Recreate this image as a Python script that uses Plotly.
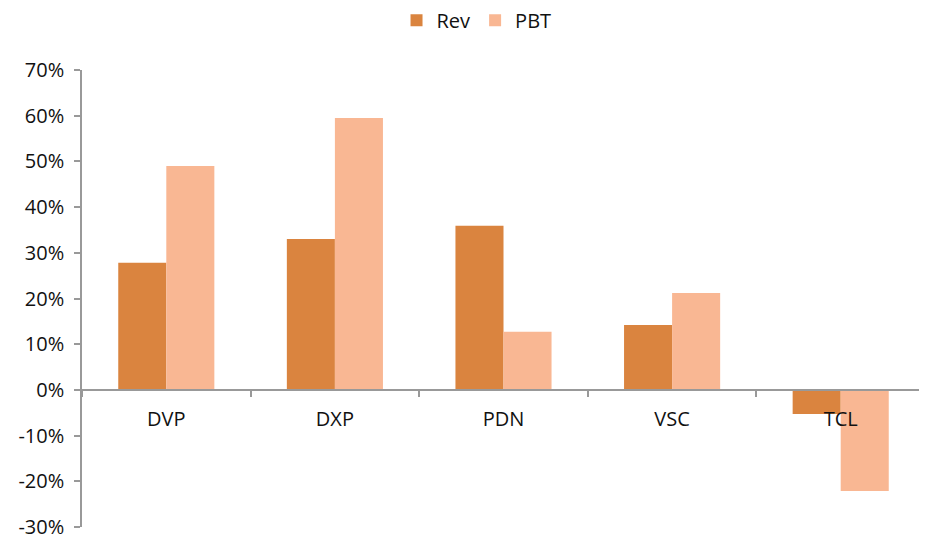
import plotly.graph_objects as go

categories = ["DVP", "DXP", "PDN", "VSC", "TCL"]
rev = [27.8, 33.0, 35.9, 14.2, -5.3]
pbt = [49.0, 59.5, 12.7, 21.2, -22.1]
ytick_vals = [-30, -20, -10, 0, 10, 20, 30, 40, 50, 60, 70]
ytick_text = [f"{v}%" for v in ytick_vals]

font_family = "Open Sans, Noto Sans, sans-serif"

fig = go.Figure()
fig.add_trace(go.Bar(name="Rev", x=categories, y=rev, marker_color="#DA843F", marker_line_width=0))
fig.add_trace(go.Bar(name="PBT", x=categories, y=pbt, marker_color="#F9B793", marker_line_width=0))

fig.update_layout(
    width=927, height=538,
    margin=dict(l=74, r=10, t=62, b=19, autoexpand=False),
    paper_bgcolor="white", plot_bgcolor="white",
    barmode="group", bargap=0.43, bargroupgap=0,
    font=dict(family=font_family, size=20, color="#111"),
    legend=dict(orientation="h", x=0.468, xanchor="center", y=1.109, yanchor="middle",
                font=dict(size=20), itemwidth=30, traceorder="normal",
                tracegroupgap=0, bgcolor="rgba(0,0,0,0)"),
    xaxis=dict(anchor="free", position=0.3, showline=True, linecolor="#999", linewidth=1.5,
               ticks="outside", tickson="boundaries", ticklen=6, tickcolor="#999", tickwidth=1.5,
               showgrid=False, zeroline=False, ticklabelstandoff=11, automargin=False,
               tickfont=dict(size=20)),
    yaxis=dict(range=[-30, 70], tickvals=ytick_vals, ticktext=ytick_text,
               showline=True, linecolor="#999", linewidth=1.5,
               ticks="outside", ticklen=6, tickcolor="#999", tickwidth=1.5,
               showgrid=False, zeroline=False, ticklabelstandoff=6, automargin=False,
               tickfont=dict(size=20)),
)

fig.write_html("out.html")
